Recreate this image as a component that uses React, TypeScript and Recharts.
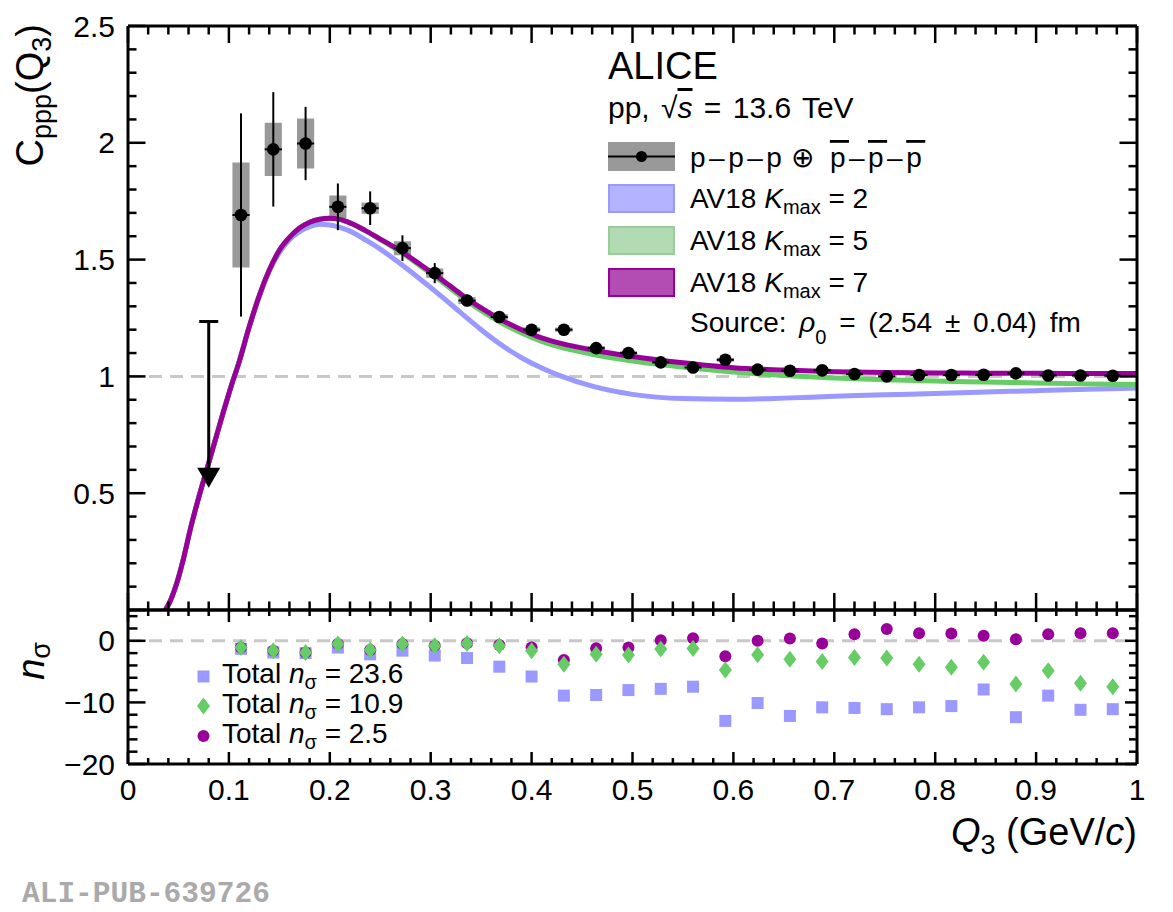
import { ComposedChart, Line, Scatter, XAxis, YAxis, ErrorBar, ReferenceLine, ReferenceArea } from "recharts";

const FONT = '"Liberation Sans", Arial, Helvetica, sans-serif';

// measured points (Q3 bin centres)
const qPoints = [
  0.112, 0.144, 0.176, 0.208, 0.24, 0.272, 0.304, 0.336, 0.368, 0.4, 0.432, 0.464, 0.496, 0.528,
  0.56, 0.592, 0.624, 0.656, 0.688, 0.72, 0.752, 0.784, 0.816, 0.848, 0.88, 0.912, 0.944, 0.976,
];
const cppp = [
  1.691, 1.972, 1.997, 1.726, 1.72, 1.549, 1.442, 1.325, 1.254, 1.2, 1.2, 1.121, 1.1, 1.06,
  1.038, 1.071, 1.029, 1.024, 1.026, 1.01, 1.0, 1.006, 1.006, 1.007, 1.013, 1.004, 1.004, 1.003,
];
const statErr = [
  0.435, 0.245, 0.157, 0.1, 0.072, 0.055, 0.043, 0.025, 0.018, 0.015, 0.013, 0.012, 0.012, 0.011,
  0.01, 0.01, 0.009, 0.009, 0.008, 0.008, 0.008, 0.007, 0.007, 0.007, 0.007, 0.006, 0.006, 0.006,
];
const systErr = [
  0.225, 0.114, 0.107, 0.048, 0.024, 0.03, 0.02, 0.015, 0.012, 0.01, 0.009, 0.009, 0.008, 0.008,
  0.008, 0.008, 0.007, 0.007, 0.007, 0.007, 0.007, 0.007, 0.006, 0.006, 0.006, 0.006, 0.006, 0.006,
];
const binHalf = 0.0085;

// upper limit in the first bin
const ulimQ = 0.08;
const ulimTop = 1.235;
const ulimTip = 0.523;
const ulimHead = 0.608;

// model curves
const curveQ = [
  0.037, 0.042, 0.048, 0.055, 0.062, 0.07, 0.078, 0.086, 0.094, 0.102, 0.11, 0.12, 0.13, 0.14, 0.15,
  0.16, 0.17, 0.18, 0.19, 0.2, 0.21, 0.22, 0.235, 0.25, 0.27, 0.29, 0.31, 0.33, 0.35, 0.37, 0.39,
  0.41, 0.43, 0.46, 0.5, 0.55, 0.6, 0.65, 0.7, 0.75, 0.8, 0.85, 0.9, 0.95, 1.0,
];
const kmax7 = [
  0.0, 0.04, 0.11, 0.22, 0.35, 0.48, 0.6, 0.72, 0.84, 0.955, 1.06, 1.21, 1.345, 1.455, 1.54,
  1.595, 1.635, 1.66, 1.673, 1.677, 1.672, 1.657, 1.625, 1.588, 1.537, 1.478, 1.417, 1.352, 1.293, 1.242, 1.2,
  1.165, 1.14, 1.113, 1.085, 1.058, 1.037, 1.027, 1.02, 1.017, 1.015, 1.014, 1.013, 1.012, 1.012,
];
const kmax5 = [
  0.0, 0.04, 0.11, 0.22, 0.35, 0.48, 0.6, 0.72, 0.84, 0.955, 1.06, 1.21, 1.345, 1.455, 1.54,
  1.595, 1.635, 1.66, 1.673, 1.677, 1.672, 1.657, 1.624, 1.586, 1.533, 1.472, 1.408, 1.342, 1.281, 1.229, 1.186,
  1.15, 1.123, 1.095, 1.066, 1.04, 1.019, 1.004, 0.993, 0.986, 0.98, 0.976, 0.972, 0.968, 0.965,
];
const kmax2 = [
  0.0, 0.04, 0.11, 0.22, 0.35, 0.48, 0.6, 0.72, 0.84, 0.955, 1.06, 1.21, 1.34, 1.45, 1.53,
  1.585, 1.62, 1.641, 1.651, 1.648, 1.638, 1.622, 1.585, 1.545, 1.482, 1.415, 1.345, 1.272, 1.2, 1.135, 1.08,
  1.036, 1.0, 0.958, 0.923, 0.905, 0.902, 0.907, 0.915, 0.921, 0.927, 0.933, 0.939, 0.945, 0.95,
];

// deviations in the lower panel
const nsK2 = [
  -1.3, -1.9, -2.0, -1.1, -2.2, -1.6, -2.4, -2.8, -4.2, -5.8, -8.9, -8.8, -8.0, -7.8,
  -7.45, -13.0, -10.1, -12.2, -10.8, -10.9, -11.1, -10.8, -10.6, -7.9, -12.4, -8.9, -11.2, -11.1,
];
const nsK5 = [
  -1.1, -1.6, -1.9, -0.5, -1.5, -0.5, -0.8, -0.43, -0.8, -1.6, -3.8, -2.2, -2.3, -1.35,
  -1.25, -4.75, -2.27, -3.0, -3.35, -2.7, -2.8, -3.8, -4.3, -3.5, -7.0, -4.86, -6.9, -7.45,
];
const nsK7 = [
  -1.1, -1.6, -1.9, -0.5, -1.5, -0.5, -0.8, -0.4, -0.7, -1.08, -3.1, -1.2, -1.1, 0.1,
  0.4, -2.5, 0.0, 0.37, -0.43, 1.08, 1.9, 1.24, 1.19, 0.81, 0.27, 1.08, 1.24, 1.24,
];

const xMajor = [0, 0.1, 0.2, 0.3, 0.4, 0.5, 0.6, 0.7, 0.8, 0.9, 1];
const yTopMajor = [0, 0.5, 1, 1.5, 2, 2.5];
const yBotMajor = [-20, -10, 0];

function subdivide(from: number, to: number, step: number) {
  const out: number[] = [];
  for (let v = from; v <= to + 1e-9; v += step) out.push(Math.round(v * 1000) / 1000);
  return out;
}
const xTicks = subdivide(0, 1, 0.02);
const yTopTicks = subdivide(0, 2.5, 0.1);
const yBotTicks = subdivide(-20, 4, 2);

const pointData = qPoints.map((q, i) => ({ q, c: cppp[i], stat: statErr[i], dq: binHalf }));
const ulimData = [{ q: ulimQ, c: ulimTop, down: [ulimTop - ulimHead, 0] }];
const ulimHeadData = [{ q: ulimQ, c: ulimTip }];
const curve = (vals: number[]) => curveQ.map((q, i) => ({ q, c: vals[i] }));
const nsData = (vals: number[]) => qPoints.map((q, i) => ({ q, n: vals[i] }));

type Side = "left" | "right" | "top" | "bottom";

function makeTick(side: Side, majors: number[], majorLen: number, minorLen: number, label?: (v: number) => string) {
  return function Tick(props: any) {
    const { x, y, payload } = props;
    const v: number = payload.value;
    const major = majors.some((m) => Math.abs(m - v) < 1e-6);
    const len = major ? majorLen : minorLen;
    let x2 = x;
    let y2 = y;
    if (side === "left") x2 = x + len;
    if (side === "right") x2 = x - len;
    if (side === "top") y2 = y + len;
    if (side === "bottom") y2 = y - len;
    const text = major && label ? label(v) : "";
    return (
      <g>
        <line x1={x} y1={y} x2={x2} y2={y2} stroke="#000" strokeWidth={2.5} />
        {text && side === "left" && (
          <text x={x - 13} y={y + 10.5} textAnchor="end" fontSize={30} fontFamily={FONT} fill="#000">
            {text}
          </text>
        )}
        {text && side === "bottom" && (
          <text x={x} y={y + 36} textAnchor="middle" fontSize={30} fontFamily={FONT} fill="#000">
            {text}
          </text>
        )}
      </g>
    );
  };
}

const fmtX = (v: number) => String(v);
const fmtTop = (v: number) => (v === 0 ? "" : String(v));
const fmtBot = (v: number) => (v < 0 ? "\u2212" + Math.abs(v) : String(v));

const frame = { stroke: "#000", strokeWidth: 3 };

const dotShape = (p: any) => <circle cx={p.cx} cy={p.cy} r={6.3} fill="#000" />;
const capShape = (p: any) => <line x1={p.cx - 9.5} x2={p.cx + 9.5} y1={p.cy} y2={p.cy} stroke="#000" strokeWidth={3} />;
const arrowShape = (p: any) => (
  <polygon points={`${p.cx - 11.5},${p.cy - 20} ${p.cx + 11.5},${p.cy - 20} ${p.cx},${p.cy}`} fill="#000" />
);
const squareShape = (p: any) => <rect x={p.cx - 6} y={p.cy - 6} width={12} height={12} fill="#9999ff" />;
const circleShape = (p: any) => <circle cx={p.cx} cy={p.cy} r={6} fill="#990099" />;
const diamondShape = (p: any) => (
  <polygon points={`${p.cx},${p.cy - 8.5} ${p.cx + 6.5},${p.cy} ${p.cx},${p.cy + 8.5} ${p.cx - 6.5},${p.cy}`} fill="#66cc66" />
);

// axis size 1 px, so margins are one less than the plot edges
function TopPanel() {
  return (
    <ComposedChart width={1173} height={620} margin={{ top: 25, right: 35, bottom: 9, left: 127 }}>
      <XAxis dataKey="q" type="number" domain={[0, 1]} allowDataOverflow ticks={xTicks} interval={0}
        height={1} tickSize={0} tickMargin={0} tickLine={false} axisLine={frame}
        tick={makeTick("bottom", xMajor, 17, 8.5)} />
      <XAxis xAxisId="top" orientation="top" dataKey="q" type="number" domain={[0, 1]} allowDataOverflow ticks={xTicks}
        interval={0} height={1} tickSize={0} tickMargin={0} tickLine={false} axisLine={frame}
        tick={makeTick("top", xMajor, 17, 8.5)} />
      <YAxis type="number" domain={[0, 2.5]} allowDataOverflow ticks={yTopTicks} interval={0} width={1}
        tickSize={0} tickMargin={0} tickLine={false} axisLine={frame}
        tick={makeTick("left", yTopMajor, 17.5, 8.5, fmtTop)} />
      <YAxis yAxisId="right" orientation="right" type="number" domain={[0, 2.5]} allowDataOverflow ticks={yTopTicks}
        interval={0} width={1} tickSize={0} tickMargin={0} tickLine={false} axisLine={frame}
        tick={makeTick("right", yTopMajor, 17.5, 8.5)} />
      <ReferenceLine y={1} stroke="#c8c8c8" strokeWidth={3} strokeDasharray="13 8" />
      <Line data={curve(kmax2)} dataKey="c" type="monotone" stroke="#9999ff" strokeWidth={5} dot={false} isAnimationActive={false} />
      <Line data={curve(kmax5)} dataKey="c" type="monotone" stroke="#66cc66" strokeWidth={5} dot={false} isAnimationActive={false} />
      <Line data={curve(kmax7)} dataKey="c" type="monotone" stroke="#990099" strokeWidth={5} dot={false} isAnimationActive={false} />
      {qPoints.map((q, i) => (
        <ReferenceArea key={i} x1={q - binHalf} x2={q + binHalf} y1={cppp[i] - systErr[i]} y2={cppp[i] + systErr[i]}
          fill="#999999" fillOpacity={1} stroke="none" ifOverflow="visible" />
      ))}
      <Scatter data={pointData} dataKey="c" shape={dotShape} isAnimationActive={false}>
        <ErrorBar dataKey="stat" direction="y" width={0} stroke="#000" strokeWidth={2} isAnimationActive={false} />
        <ErrorBar dataKey="dq" direction="x" width={0} stroke="#000" strokeWidth={2} isAnimationActive={false} />
      </Scatter>
      <Scatter data={ulimData} dataKey="c" shape={capShape} isAnimationActive={false}>
        <ErrorBar dataKey="down" direction="y" width={0} stroke="#000" strokeWidth={3} isAnimationActive={false} />
      </Scatter>
      <Scatter data={ulimHeadData} dataKey="c" shape={arrowShape} isAnimationActive={false} />
    </ComposedChart>
  );
}

function BottomPanel() {
  return (
    <ComposedChart width={1173} height={312} margin={{ top: 9, right: 35, bottom: 147, left: 127 }}>
      <XAxis dataKey="q" type="number" domain={[0, 1]} allowDataOverflow ticks={xTicks} interval={0}
        height={1} tickSize={0} tickMargin={0} tickLine={false} axisLine={frame}
        tick={makeTick("bottom", xMajor, 12, 6, fmtX)} />
      <XAxis xAxisId="top" orientation="top" dataKey="q" type="number" domain={[0, 1]} allowDataOverflow ticks={xTicks}
        interval={0} height={1} tickSize={0} tickMargin={0} tickLine={false} axisLine={frame}
        tick={makeTick("top", xMajor, 12, 6)} />
      <YAxis type="number" domain={[-20, 5]} allowDataOverflow ticks={yBotTicks} interval={0} width={1}
        tickSize={0} tickMargin={0} tickLine={false} axisLine={frame}
        tick={makeTick("left", yBotMajor, 17.5, 9.5, fmtBot)} />
      <YAxis yAxisId="right" orientation="right" type="number" domain={[-20, 5]} allowDataOverflow ticks={yBotTicks}
        interval={0} width={1} tickSize={0} tickMargin={0} tickLine={false} axisLine={frame}
        tick={makeTick("right", yBotMajor, 12, 8)} />
      <ReferenceLine y={0} stroke="#c8c8c8" strokeWidth={3} strokeDasharray="13 8" />
      <Scatter data={nsData(nsK2)} dataKey="n" shape={squareShape} isAnimationActive={false} />
      <Scatter data={nsData(nsK7)} dataKey="n" shape={circleShape} isAnimationActive={false} />
      <Scatter data={nsData(nsK5)} dataKey="n" shape={diamondShape} isAnimationActive={false} />
    </ComposedChart>
  );
}

const ov = { textDecoration: "overline" } as const;

function Labels() {
  return (
    <svg width={1173} height={912} style={{ position: "absolute", left: 0, top: 0, pointerEvents: "none" }} fontFamily={FONT}>
      {/* axis titles */}
      <text transform="translate(43,24) rotate(-90)" textAnchor="end" fontSize={38}>
        C<tspan fontSize={27} dy={8}>ppp</tspan><tspan dy={-8}>(Q</tspan><tspan fontSize={27} dy={8}>3</tspan><tspan dy={-8}>)</tspan>
      </text>
      <text transform="translate(44,642) rotate(-90)" textAnchor="end" fontSize={38}>
        <tspan fontStyle="italic">n</tspan><tspan fontSize={27} dy={6}>σ</tspan>
      </text>
      <text x={1137} y={845} textAnchor="end" fontSize={38}>
        <tspan fontStyle="italic">Q</tspan><tspan fontSize={27} dy={9}>3</tspan><tspan dy={-9}> (GeV/</tspan><tspan fontStyle="italic">c</tspan>)
      </text>

      {/* header */}
      <text x={608} y={79} fontSize={38}>ALICE</text>
      <text x={608} y={118} fontSize={30} wordSpacing={3}>
        pp, √<tspan fontStyle="italic" style={ov}>s</tspan> = 13.6 TeV
      </text>

      {/* legend */}
      <rect x={608} y={142} width={67} height={29} fill="#999999" />
      <line x1={608} x2={675} y1={156.5} y2={156.5} stroke="#000" strokeWidth={2} />
      <circle cx={641.5} cy={156.5} r={5.5} fill="#000" />
      <text x={690} y={167} fontSize={28} letterSpacing={3.5}>
        p–p–p<tspan dx={6}>⊕</tspan><tspan dx={12} style={ov}>p</tspan>–<tspan style={ov}>p</tspan>–<tspan style={ov}>p</tspan>
      </text>
      <rect x={609} y={185} width={65} height={27} fill="#b3b3ff" stroke="#9999ff" strokeWidth={2} />
      <text x={690} y={208} fontSize={28}>
        AV18 <tspan fontStyle="italic">K</tspan><tspan fontSize={20} dy={6}>max</tspan><tspan dy={-6}> = 2</tspan>
      </text>
      <rect x={609} y={227} width={65} height={27} fill="#b3dbb3" stroke="#99cc99" strokeWidth={2} />
      <text x={690} y={250} fontSize={28}>
        AV18 <tspan fontStyle="italic">K</tspan><tspan fontSize={20} dy={6}>max</tspan><tspan dy={-6}> = 5</tspan>
      </text>
      <rect x={609} y={269} width={65} height={27} fill="#b34db3" stroke="#990099" strokeWidth={2} />
      <text x={690} y={292} fontSize={28}>
        AV18 <tspan fontStyle="italic">K</tspan><tspan fontSize={20} dy={6}>max</tspan><tspan dy={-6}> = 7</tspan>
      </text>
      <text x={690} y={332} fontSize={28} wordSpacing={5}>
        Source: <tspan fontStyle="italic">ρ</tspan><tspan fontSize={20} dy={12}>0</tspan><tspan dy={-12}> = (2.54 ± 0.04) fm</tspan>
      </text>

      {/* lower legend */}
      <rect x={197.5} y={670.5} width={12} height={12} fill="#9999ff" />
      <text x={222} y={683} fontSize={28}>
        Total <tspan fontStyle="italic">n</tspan><tspan fontSize={20} dy={6}>σ</tspan><tspan dy={-6}> = 23.6</tspan>
      </text>
      <polygon points="203.5,697.5 210,706 203.5,714.5 197,706" fill="#66cc66" />
      <text x={222} y={713} fontSize={28}>
        Total <tspan fontStyle="italic">n</tspan><tspan fontSize={20} dy={6}>σ</tspan><tspan dy={-6}> = 10.9</tspan>
      </text>
      <circle cx={203.5} cy={736} r={6} fill="#990099" />
      <text x={222} y={743} fontSize={28}>
        Total <tspan fontStyle="italic">n</tspan><tspan fontSize={20} dy={6}>σ</tspan><tspan dy={-6}> = 2.5</tspan>
      </text>

      <text x={22} y={902} fontSize={29.5} fontWeight="bold" fontFamily='"Liberation Mono", "DejaVu Sans Mono", monospace' fill="#aaaaaa">
        ALI-PUB-639726
      </text>
    </svg>
  );
}

export default function App() {
  return (
    <div style={{ position: "absolute", left: 0, top: 0, width: 1173, height: 912, background: "#fff", fontFamily: FONT }}>
      <div style={{ position: "absolute", left: 0, top: 0 }}>
        <TopPanel />
      </div>
      <div style={{ position: "absolute", left: 0, top: 600 }}>
        <BottomPanel />
      </div>
      <Labels />
    </div>
  );
}
